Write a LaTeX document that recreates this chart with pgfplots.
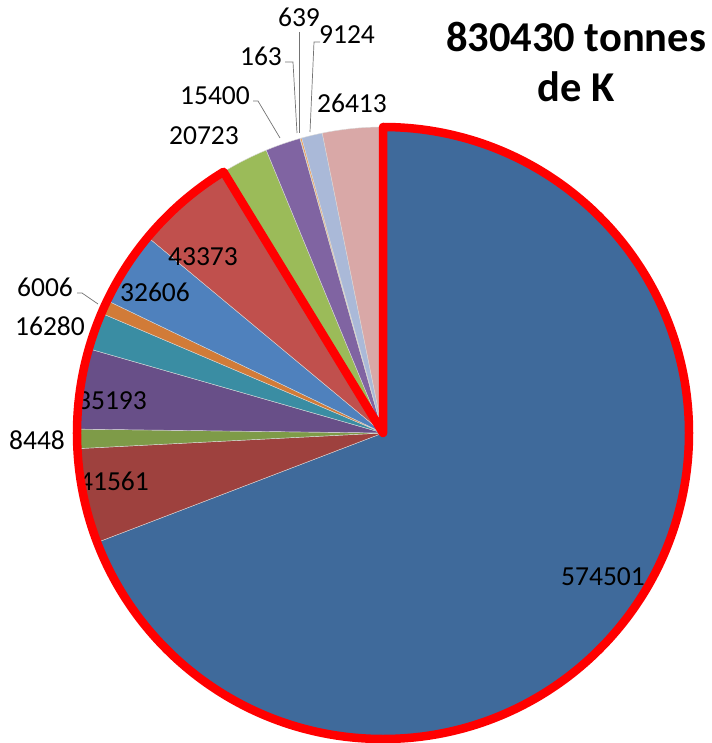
\documentclass[border=0pt]{standalone}
\usepackage{pgfplots}
\pgfplotsset{compat=1.18}
\usepackage{pgfplotstable}
\usepackage{fontspec}
\setmainfont{Carlito}
\definecolor{c1}{HTML}{3F6A9B}
\definecolor{c2}{HTML}{9E413E}
\definecolor{c3}{HTML}{7E9B48}
\definecolor{c4}{HTML}{684F88}
\definecolor{c5}{HTML}{3A8DA3}
\definecolor{c6}{HTML}{D17B38}
\definecolor{c7}{HTML}{4F81BD}
\definecolor{c8}{HTML}{C0504D}
\definecolor{c9}{HTML}{9BBB59}
\definecolor{c10}{HTML}{8064A2}
\definecolor{c11}{HTML}{4BACC6}
\definecolor{c12}{HTML}{F79646}
\definecolor{c13}{HTML}{AAB9D8}
\definecolor{c14}{HTML}{D9A8A7}
\tikzset{lbl/.style={font=\fontsize{27.5bp}{32bp}\selectfont, inner sep=0pt}}
\pgfplotstableread{
value col lx ly
574501 c1 603 166
41561 c2 114 262
8448 c3 37 303
35193 c4 112 342
16280 c5 50 417
6006 c6 45 456
32606 c7 155 451
43373 c8 203 486
20723 c9 204 607
15400 c10 215 647
163 c11 261 687
639 c12 299 726
9124 c13 347 708
26413 c14 352 640
}\piedata
\begin{document}
\begin{tikzpicture}
\begin{axis}[hide axis, x=1bp, y=1bp, xmin=0, xmax=712, ymin=0, ymax=743, scale only axis, clip=false]
\pgfplotstablegetrowsof{\piedata}
\pgfmathtruncatemacro\lastrow{\pgfplotsretval-1}
\def\total{0}
\pgfplotsforeachungrouped \i in {0,...,\lastrow}{%
  \pgfplotstablegetelem{\i}{value}\of\piedata
  \edef\total{\fpeval{\total+\pgfplotsretval}}}
\def\cum{0}
\pgfplotsforeachungrouped \i in {0,...,\lastrow}{%
  \pgfplotstablegetelem{\i}{value}\of\piedata \let\v\pgfplotsretval
  \pgfplotstablegetelem{\i}{col}\of\piedata \let\col\pgfplotsretval
  \edef\aS{\fpeval{90-360*\cum/\total}}%
  \edef\cum{\fpeval{\cum+\v}}%
  \edef\aE{\fpeval{90-360*\cum/\total}}%
  \ifnum\i=7 \let\redEnd\aE\fi
  \edef\temp{\noexpand\fill[fill=\col, draw=white!85!black, line width=0.4bp] (axis cs:383,310) -- ++(\aS:306bp) arc[start angle=\aS, end angle=\aE, radius=306bp] -- cycle;}%
  \temp
}
% leader lines
\addplot[black!55, line width=0.7bp] coordinates {(77,450) (82,450) (98,439)};
\addplot[black!55, line width=0.7bp] coordinates {(253,642) (258,642) (280,605)};
\addplot[black!55, line width=0.7bp] coordinates {(285,681) (293,681) (297,610)};
\addplot[black!55, line width=0.7bp] coordinates {(299,711) (299,610)};
\addplot[black!55, line width=0.7bp] coordinates {(320,701) (314,701) (310,611)};
% labels
\pgfplotsforeachungrouped \i in {0,...,\lastrow}{%
  \pgfplotstablegetelem{\i}{value}\of\piedata \let\v\pgfplotsretval
  \pgfplotstablegetelem{\i}{lx}\of\piedata \let\lx\pgfplotsretval
  \pgfplotstablegetelem{\i}{ly}\of\piedata \let\ly\pgfplotsretval
  \edef\temp{\noexpand\node[lbl] at (axis cs:\lx,\ly) {\v};}%
  \temp
}
% red outline
\edef\temp{\noexpand\draw[red, line width=8.5bp, line join=round] (axis cs:383,310) -- ++(90:306bp) arc[start angle=90, end angle=\redEnd, radius=306bp] -- cycle;}
\temp
\node[font=\fontsize{42.5bp}{50bp}\selectfont\bfseries, align=center] at (axis cs:576,681) {830430 tonnes\\de K};
\end{axis}
\pgfresetboundingbox
\path (0,0) rectangle (712bp,743bp);
\end{tikzpicture}
\end{document}
